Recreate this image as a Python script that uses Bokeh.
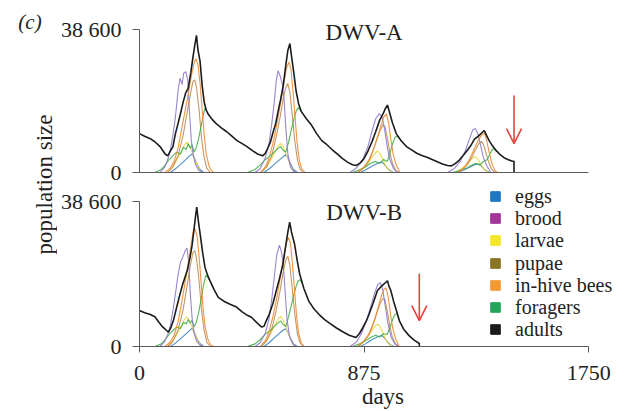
import math
from bokeh.plotting import figure
from bokeh.layouts import row, column
from bokeh.models import Range1d, FixedTicker, Legend, LegendItem, Arrow, OpenHead, Label
from bokeh.embed import file_html
from bokeh.resources import INLINE
from bokeh.core.properties import value

FONT = "Liberation Serif"

# ---------------- data ----------------
CATEGORIES = ["eggs", "brood", "larvae", "pupae", "in-hive bees", "foragers", "adults"]
DAY_TICKS = [0, 875, 1750]
DAY_MAX = 1750
POP_MAX = 38600
POP_TICKS = [0, 38600]
POP_LABELS = {0: "0", 38600: "38 600"}
PANELS = ["DWV-A", "DWV-B"]
COLLAPSE_DAY = [1459, 1090]          # red arrows (colony collapse)
ARROW_SPAN = [(20800, 7800), (19400, 6900)]

# (day, population) pairs, panel A (DWV-A)
A_adults = [(0, 10500), (20, 9800), (40, 9200), (60, 8300), (80, 7000), (100, 5000), (110, 4500), (120, 5800),
            (130, 6900), (140, 10500), (150, 13200), (160, 16000), (170, 19000), (180, 21500), (190, 22800),
            (200, 27000), (208, 31000), (215, 34200), (222, 37000), (228, 33000), (236, 30000), (244, 23500),
            (252, 19000), (260, 16800), (270, 15500), (285, 14200), (300, 13100), (320, 12000), (340, 11000),
            (360, 9800), (380, 8600), (400, 7800), (420, 6900), (440, 5900), (460, 5000), (480, 4500),
            (490, 5200), (500, 6600), (510, 8200), (520, 10800), (530, 13000), (540, 16500), (550, 19800),
            (560, 23500), (570, 29000), (578, 33000), (586, 34800), (592, 31500), (600, 27500), (610, 22000),
            (620, 18500), (630, 16500), (650, 14500), (670, 12800), (690, 10500), (710, 8600), (730, 7500),
            (750, 6200), (770, 5000), (790, 3800), (810, 2800), (830, 2100), (845, 1900), (860, 2600),
            (875, 3800), (890, 5800), (905, 8200), (920, 11000), (935, 14000), (950, 16000), (958, 17300),
            (966, 18200), (975, 16000), (985, 13500), (1000, 10500), (1020, 8500), (1040, 7000), (1060, 6100),
            (1080, 5200), (1100, 4600), (1120, 4100), (1140, 3500), (1160, 2900), (1180, 2300), (1200, 1900),
            (1215, 1800), (1230, 2400), (1245, 3300), (1260, 4500), (1275, 5800), (1290, 7200), (1305, 9000),
            (1320, 9800), (1335, 10800), (1343, 11300), (1352, 10000), (1362, 8600), (1375, 7200), (1390, 5900),
            (1405, 4800), (1420, 4000), (1435, 3500), (1450, 3100), (1459, 3000), (1459, 0)]
A_eggs = [(0, 0), (120, 0), (140, 1000), (160, 2200), (180, 3500), (195, 4500), (205, 5000), (212, 4200),
          (222, 2500), (235, 900), (250, 0), (485, 0), (505, 1000), (525, 2200), (545, 3400), (560, 4300),
          (570, 4800), (578, 4000), (588, 2400), (600, 800), (615, 0), (860, 0), (880, 700), (900, 1500),
          (920, 2200), (935, 2700), (945, 2800), (955, 2100), (965, 1200), (978, 400), (990, 0), (1240, 0),
          (1260, 600), (1280, 1200), (1298, 1800), (1312, 2200), (1322, 2300), (1332, 1700), (1342, 900),
          (1355, 300), (1368, 0), (1459, 0)]
A_brood = [(0, 0), (80, 0), (97, 1300), (110, 3500), (120, 6000), (130, 10000), (140, 15000), (150, 22000),
           (158, 25500), (166, 23800), (172, 26800), (180, 27200), (188, 25000), (195, 16000), (202, 8500),
           (210, 4500), (218, 2200), (230, 600), (245, 0), (450, 0), (470, 1000), (490, 4000), (505, 8000),
           (515, 13000), (525, 19000), (533, 25000), (540, 27500), (548, 26000), (556, 24000), (563, 20000),
           (570, 12000), (578, 5000), (588, 1500), (600, 300), (615, 0), (820, 0), (845, 1200), (870, 3500),
           (890, 7000), (905, 11000), (920, 14500), (934, 15900), (945, 15000), (955, 11500), (965, 7000),
           (975, 3500), (990, 1000), (1005, 0), (1200, 0), (1225, 1000), (1250, 3000), (1270, 6000),
           (1285, 9000), (1298, 11500), (1308, 11900), (1318, 10500), (1328, 7500), (1340, 4000), (1355, 1500),
           (1370, 0), (1459, 0)]
A_larvae = [(0, 0), (110, 0), (130, 1500), (150, 4000), (165, 6000), (175, 7500), (185, 8200), (195, 7000),
            (205, 5500), (215, 3500), (228, 1500), (240, 0), (475, 0), (495, 1500), (515, 3800), (530, 5800),
            (540, 7200), (550, 7900), (560, 6800), (570, 5200), (580, 3200), (592, 1300), (605, 0), (850, 0),
            (870, 1000), (890, 2500), (905, 4000), (918, 5200), (928, 5800), (938, 5000), (948, 3600),
            (958, 2000), (970, 700), (985, 0), (1230, 0), (1250, 800), (1270, 1900), (1285, 3000), (1298, 3900),
            (1308, 4300), (1318, 3600), (1328, 2400), (1340, 1000), (1352, 300), (1365, 0), (1459, 0)]
A_pupae = [(0, 0), (110, 0), (130, 1500), (150, 4500), (170, 10000), (185, 16000), (198, 21000), (208, 24500),
           (215, 25000), (222, 23000), (232, 17000), (242, 9000), (252, 4000), (262, 1200), (275, 0), (475, 0),
           (495, 1500), (515, 4500), (532, 9500), (548, 15000), (560, 20000), (570, 23000), (578, 24000),
           (586, 21500), (595, 15500), (605, 8500), (615, 3500), (625, 1000), (638, 0), (850, 0), (872, 1200),
           (892, 3000), (910, 6000), (925, 9000), (938, 11500), (948, 12800), (956, 12500), (965, 9500),
           (975, 5500), (985, 2500), (998, 600), (1010, 0), (1235, 0), (1258, 900), (1278, 2200), (1295, 4200),
           (1310, 6300), (1322, 7800), (1332, 8400), (1340, 7600), (1350, 5200), (1360, 2800), (1372, 900),
           (1385, 0), (1459, 0)]
A_inhive = [(0, 0), (100, 0), (120, 1200), (135, 3000), (150, 6500), (165, 12000), (180, 17500), (192, 22000),
            (202, 26000), (212, 29500), (220, 30700), (228, 29000), (236, 24000), (244, 17000), (252, 10000),
            (260, 5000), (270, 2000), (280, 500), (290, 0), (470, 0), (490, 1500), (505, 4000), (520, 8000),
            (535, 13000), (550, 19000), (562, 24000), (572, 28000), (582, 29800), (590, 28000), (598, 22000),
            (606, 15000), (614, 8000), (622, 3500), (632, 1000), (645, 0), (850, 0), (875, 1500), (900, 4000),
            (920, 8000), (940, 12500), (952, 15000), (962, 15800), (970, 13500), (978, 9500), (988, 5000),
            (1000, 2000), (1015, 0), (1240, 0), (1265, 1200), (1285, 3500), (1305, 6500), (1320, 8800),
            (1335, 10300), (1345, 10500), (1353, 8500), (1362, 5500), (1372, 2500), (1385, 500), (1395, 0),
            (1459, 0)]
A_foragers = [
    [(60, 0), (85, 800), (100, 2000), (115, 3500), (130, 4500), (145, 5500), (160, 5000), (172, 6800), (182, 6200),
     (190, 7800), (198, 6500), (205, 7500), (212, 5500), (220, 6500), (230, 9000), (240, 12500), (250, 16000),
     (256, 17500), (262, 16500), (270, 15400)],
    [(420, 0), (450, 800), (470, 2000), (490, 3500), (510, 4500), (525, 5500), (540, 6500), (550, 7000),
     (560, 6000), (570, 5500), (580, 8000), (590, 11000), (600, 14000), (610, 16500), (618, 17500), (625, 17000),
     (632, 16300)],
    [(830, 0), (860, 800), (880, 1500), (900, 2500), (920, 3000), (935, 2500), (950, 3500), (965, 3000),
     (975, 5000), (985, 7500), (995, 9500), (1003, 9800), (1010, 9400)],
    [(1220, 0), (1250, 600), (1275, 1200), (1295, 2000), (1310, 2500), (1325, 2000), (1340, 3000), (1355, 3500),
     (1365, 5000), (1375, 6300), (1380, 6300), (1390, 5800)],
]

# panel B (DWV-B)
B_adults = [(0, 9600), (20, 9000), (40, 8600), (60, 7900), (75, 6500), (90, 5200), (100, 4600), (113, 3800),
            (122, 5000), (132, 6900), (145, 10500), (158, 14000), (168, 16500), (177, 18400), (187, 20500),
            (197, 23800), (205, 27000), (212, 31000), (218, 34500), (223, 37100), (230, 33000), (238, 29100),
            (246, 25000), (255, 21100), (265, 19000), (274, 17600), (290, 15200), (307, 13100), (330, 12000),
            (355, 11200), (378, 10500), (400, 9200), (420, 8300), (436, 7800), (455, 6500), (475, 5200),
            (485, 5400), (494, 6900), (505, 8500), (520, 11500), (533, 14900), (545, 18000), (559, 22000),
            (570, 27000), (578, 30500), (585, 33100), (592, 30500), (604, 27300), (614, 23000), (624, 19300),
            (640, 15500), (660, 12000), (680, 10000), (700, 8500), (720, 7200), (740, 6200), (766, 5000),
            (790, 4000), (817, 3000), (843, 2400), (856, 3400), (870, 5000), (885, 7000), (895, 8700),
            (910, 11500), (927, 14900), (945, 16200), (960, 17100), (966, 17500), (972, 16000), (979, 14900),
            (990, 12000), (1000, 9800), (1012, 6900), (1030, 4500), (1050, 2900), (1070, 1700), (1090, 800),
            (1090, 0)]
B_eggs = [(0, 0), (120, 0), (140, 900), (160, 2100), (180, 3300), (195, 4300), (205, 4800), (212, 4000),
          (222, 2300), (235, 800), (250, 0), (485, 0), (505, 1000), (525, 2300), (545, 3500), (560, 4400),
          (570, 4700), (578, 3900), (588, 2200), (600, 700), (615, 0), (860, 0), (880, 700), (900, 1600),
          (920, 2300), (935, 2800), (945, 2900), (955, 2200), (965, 1200), (978, 400), (990, 0), (1090, 0)]
B_brood = [(0, 0), (80, 0), (97, 1200), (110, 3200), (120, 5500), (130, 9500), (140, 14000), (150, 19000),
           (160, 22500), (170, 24000), (178, 25500), (185, 26200), (192, 22000), (198, 14000), (205, 7500),
           (213, 3500), (222, 1500), (235, 400), (250, 0), (450, 0), (470, 1000), (490, 3500), (505, 7500),
           (515, 12500), (525, 18500), (535, 24500), (545, 27000), (552, 25500), (560, 22000), (567, 15000),
           (575, 7000), (585, 2500), (598, 500), (612, 0), (820, 0), (845, 1200), (865, 3500), (885, 7000),
           (900, 10500), (915, 14000), (928, 16500), (938, 17000), (948, 15000), (958, 10500), (968, 6000),
           (980, 2500), (995, 600), (1010, 0), (1090, 0)]
B_larvae = [(0, 0), (110, 0), (130, 1400), (150, 3800), (165, 5800), (175, 7200), (185, 7900), (195, 6800),
            (205, 5200), (215, 3300), (228, 1400), (240, 0), (475, 0), (495, 1500), (515, 3900), (530, 6000),
            (540, 7300), (550, 8000), (560, 6900), (570, 5300), (580, 3300), (592, 1300), (605, 0), (850, 0),
            (870, 1000), (890, 2600), (905, 4200), (918, 5400), (928, 6000), (938, 5200), (948, 3700),
            (958, 2000), (970, 700), (985, 0), (1090, 0)]
B_pupae = [(0, 0), (110, 0), (130, 1400), (150, 4300), (170, 9800), (185, 16000), (198, 21500), (208, 25000),
           (215, 25500), (222, 23500), (232, 17500), (242, 9500), (252, 4200), (262, 1200), (275, 0), (475, 0),
           (495, 1500), (515, 4500), (532, 9500), (548, 15000), (560, 20000), (570, 23000), (578, 24000),
           (586, 21500), (595, 15500), (605, 8500), (615, 3500), (625, 1000), (638, 0), (850, 0), (872, 1200),
           (892, 3000), (910, 6000), (925, 9000), (938, 11500), (948, 12800), (956, 12500), (965, 9500),
           (975, 5500), (985, 2500), (998, 600), (1010, 0), (1090, 0)]
B_inhive = [(0, 0), (100, 0), (120, 1200), (135, 3000), (150, 6500), (165, 12000), (180, 18000), (192, 23000),
            (202, 27500), (210, 31000), (216, 31400), (224, 29500), (232, 24000), (240, 17000), (248, 10000),
            (256, 5000), (266, 2000), (276, 500), (288, 0), (470, 0), (490, 1500), (505, 4000), (520, 8000),
            (535, 13000), (550, 19000), (562, 24000), (572, 27500), (580, 29000), (588, 27500), (596, 22000),
            (604, 15000), (612, 8000), (620, 3500), (630, 1000), (642, 0), (850, 0), (875, 1500), (900, 4000),
            (920, 8000), (938, 12500), (950, 15000), (960, 15700), (968, 13500), (976, 9500), (986, 5000),
            (998, 2000), (1012, 0), (1090, 0)]
B_foragers = [
    [(60, 0), (85, 700), (100, 1800), (115, 3200), (130, 4200), (145, 5200), (160, 4800), (172, 6500), (182, 6000),
     (190, 7200), (198, 6200), (205, 7000), (212, 5200), (220, 6200), (230, 8800), (240, 12500), (250, 16500),
     (258, 18900), (265, 18500), (272, 17700)],
    [(420, 0), (450, 700), (470, 1800), (490, 3300), (510, 4300), (525, 5300), (540, 6300), (550, 6800),
     (560, 5800), (570, 5300), (580, 7800), (590, 10500), (600, 13500), (610, 16000), (618, 17500), (625, 17800),
     (632, 17000)],
    [(830, 0), (860, 800), (880, 1500), (900, 2400), (920, 3000), (935, 2500), (950, 3400), (965, 3200),
     (975, 5000), (985, 7000), (995, 8500), (1003, 8700), (1010, 7400)],
]

# ---------------- styling / layout ----------------
LINE_COLORS = {"eggs": "#3a7fc4", "brood": "#9079cc", "larvae": "#ecd640", "pupae": "#bb8d55",
               "in-hive bees": "#f08a30", "foragers": "#3fae45", "adults": "#1c1c1c"}
KEY_COLORS = {"eggs": "#1f78c1", "brood": "#a3359b", "larvae": "#f3e62c", "pupae": "#8a7424",
              "in-hive bees": "#f39a35", "foragers": "#26a55a", "adults": "#1b1b1b"}
RED = "#e8423f"
AXIS_COLOR = "#5a5a5a"
TEXT_COLOR = "#222222"

# pixel layout (page coordinates; the layout sits at the page's top-left)
SIDE_W = 57
FRAME_L, AXIS_R, FRAME_R = 136, 588, 626        # frame extends past the axis end for the legend
TOP_Y0, TOP_ZERO, TOP_FULL = 0, 172, 29
SPLIT = 184
BOT_ZERO, BOT_FULL = 346, 201
BOTTOM = 411
KEY_X, KEY_Y0, KEY_DY = 344, 196, 22.2           # legend: glyph-box left (frame px), first row centre, row pitch
KEY_FONT = 20
KEY_GLYPH = 24

x_end = DAY_MAX * (FRAME_R - FRAME_L) / (AXIS_R - FRAME_L)
x_range = Range1d(0, x_end)


def xy(pairs):
    return [d for d, _ in pairs], [n for _, n in pairs]


def xy_segments(segments):
    xs, ys = [], []
    for k, seg in enumerate(segments):
        if k:
            xs.append(float("nan"))
            ys.append(float("nan"))
        a, b = xy(seg)
        xs += a
        ys += b
    return xs, ys


def panel(canvas_top, canvas_bottom, zero_px, full_px, series, idx, show_x):
    y_end = POP_MAX * (zero_px - canvas_top) / (zero_px - full_px)
    p = figure(width=FRAME_R - SIDE_W, height=canvas_bottom - canvas_top,
               x_range=x_range, y_range=Range1d(0, y_end),
               output_backend="svg", toolbar_location=None,
               min_border_left=FRAME_L - SIDE_W, min_border_right=0,
               min_border_top=0, min_border_bottom=canvas_bottom - zero_px)
    p.outline_line_color = None
    p.grid.visible = False
    p.background_fill_color = "white"

    order = ["eggs", "larvae", "pupae", "foragers", "brood", "in-hive bees", "adults"]
    for name in order:
        data = series[name]
        if name == "foragers":
            xs, ys = xy_segments(data)
        else:
            xs, ys = xy(data)
        p.line(xs, ys, line_color=LINE_COLORS[name],
               line_width=1.6 if name == "adults" else 1.1,
               line_alpha=1.0 if name == "adults" else 0.9)

    ya = p.yaxis[0]
    ya.bounds = (0, POP_MAX)
    ya.ticker = FixedTicker(ticks=POP_TICKS)
    ya.major_label_overrides = POP_LABELS
    ya.minor_tick_line_color = None
    ya.major_tick_in = 0
    ya.major_tick_out = 7
    ya.major_label_standoff = 11
    ya.axis_line_color = AXIS_COLOR
    ya.major_tick_line_color = AXIS_COLOR
    ya.major_label_text_font = FONT
    ya.major_label_text_font_size = "22px"
    ya.major_label_text_color = TEXT_COLOR

    xa = p.xaxis[0]
    xa.bounds = (0, DAY_MAX)
    xa.axis_line_color = AXIS_COLOR
    xa.minor_tick_line_color = None
    if show_x:
        xa.ticker = FixedTicker(ticks=DAY_TICKS)
        xa.major_tick_in = 0
        xa.major_tick_out = 6
        xa.major_tick_line_color = AXIS_COLOR
        xa.major_label_standoff = 13
        xa.major_label_text_font = FONT
        xa.major_label_text_font_size = "22px"
        xa.major_label_text_color = TEXT_COLOR
        xa.axis_label = "days"
        xa.axis_label_standoff = 1
        xa.axis_label_text_font = FONT
        xa.axis_label_text_font_size = "23px"
        xa.axis_label_text_font_style = "normal"
        xa.axis_label_text_color = TEXT_COLOR
    else:
        xa.ticker = FixedTicker(ticks=[])
        xa.major_tick_line_color = None

    title_y = [37800, 35700][idx]
    p.add_layout(Label(x=DAY_MAX / 2, y=title_y, text=PANELS[idx], text_align="center", text_baseline="middle",
                       text_font=FONT, text_font_size="23px", text_color=TEXT_COLOR))
    y0, y1 = ARROW_SPAN[idx]
    p.add_layout(Arrow(x_start=COLLAPSE_DAY[idx], y_start=y0, x_end=COLLAPSE_DAY[idx], y_end=y1,
                       line_color=RED, line_width=1.6,
                       end=OpenHead(size=15, line_color=RED, line_width=1.6)))
    return p


series_A = {"eggs": A_eggs, "brood": A_brood, "larvae": A_larvae, "pupae": A_pupae,
            "in-hive bees": A_inhive, "foragers": A_foragers, "adults": A_adults}
series_B = {"eggs": B_eggs, "brood": B_brood, "larvae": B_larvae, "pupae": B_pupae,
            "in-hive bees": B_inhive, "foragers": B_foragers, "adults": B_adults}

top = panel(TOP_Y0, SPLIT, TOP_ZERO, TOP_FULL, series_A, 0, False)
bot = panel(SPLIT, BOTTOM, BOT_ZERO, BOT_FULL, series_B, 1, True)

# legend: one entry per row so the row pitch matches the reference
row_h = max(KEY_GLYPH, KEY_FONT * 1.2)
for i, name in enumerate(CATEGORIES):
    r = bot.scatter(x=[float("nan")], y=[float("nan")], marker="square", size=10,
                    fill_color=KEY_COLORS[name], line_color=KEY_COLORS[name])
    centre = KEY_Y0 + i * KEY_DY
    lg = Legend(items=[LegendItem(label=name, renderers=[r])],
                location=(KEY_X, round(BOT_ZERO - (centre + row_h / 2))),
                orientation="vertical", glyph_width=KEY_GLYPH, glyph_height=KEY_GLYPH, label_standoff=8,
                label_text_font=FONT, label_text_font_size=f"{KEY_FONT}px", label_text_color=TEXT_COLOR,
                label_height=20, spacing=0, padding=0, margin=0,
                background_fill_alpha=0, border_line_alpha=0)
    bot.add_layout(lg)

side = figure(width=SIDE_W, height=BOTTOM - TOP_Y0, x_range=Range1d(0, SIDE_W), y_range=Range1d(0, BOTTOM - TOP_Y0),
              output_backend="svg", toolbar_location=None,
              x_axis_location=None, y_axis_location=None, min_border=0)
side.outline_line_color = None
side.grid.visible = False
side.text(x=[44], y=[BOTTOM - 184], text=["population size"], angle=math.pi / 2,
          text_align="center", text_baseline="middle",
          text_font=value(FONT), text_font_size="23px", text_color=TEXT_COLOR)
side.text(x=[29.5], y=[BOTTOM - 21.5], text=["(c)"], text_align="center", text_baseline="middle",
          text_font=value(FONT), text_font_size="21px", text_font_style="italic", text_color=TEXT_COLOR)

layout = row(side, column(top, bot))

with open("out.html", "w") as f:
    f.write(file_html(layout, INLINE))
